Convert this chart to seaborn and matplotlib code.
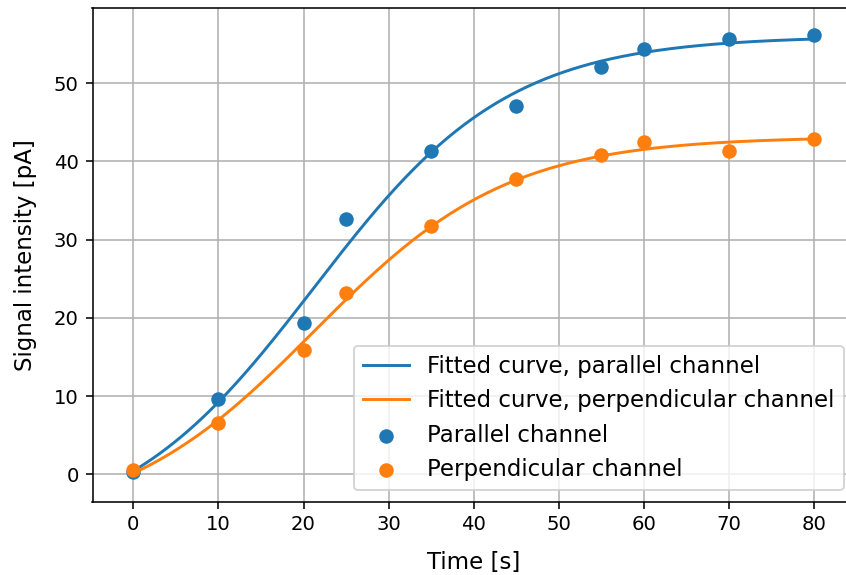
#!/usr/bin/env python3
"""
Signal intensity vs time for two polarisation channels, with fitted curves.
"""

import numpy as np
import pandas as pd
import matplotlib
matplotlib.use("Agg")
import matplotlib.pyplot as plt
import seaborn as sns

time_s = [0, 10, 20, 25, 35, 45, 55, 60, 70, 80]
parallel_pa = [0.3, 9.6, 19.4, 32.6, 41.3, 47.1, 52.0, 54.3, 55.6, 56.2]
perpendicular_pa = [0.6, 6.6, 15.9, 23.2, 31.7, 37.8, 40.8, 42.5, 41.3, 42.8]

line_labels = ["Fitted curve, parallel channel", "Fitted curve, perpendicular channel"]
point_labels = ["Parallel channel", "Perpendicular channel"]
colors = ["tab:blue", "tab:orange"]


def sigmoid(x):
    return 1 / (1 + np.exp(-x))


def joint_logistic_fit(t, ys, t_new):
    """y = A / (1 + exp(-k (t - t0))) + c, with k and t0 shared by both channels."""
    t = np.asarray(t, dtype=float)
    ys = [np.asarray(y, dtype=float) for y in ys]
    best = None
    for k in np.linspace(0.02, 0.3, 113):
        for t0 in np.linspace(0, 40, 161):
            g = sigmoid(k * (t - t0))
            M = np.column_stack([g, np.ones_like(g)])
            sse, coefs = 0.0, []
            for y in ys:
                coef, *_ = np.linalg.lstsq(M, y, rcond=None)
                sse += np.sum((M @ coef - y) ** 2)
                coefs.append(coef)
            if best is None or sse < best[0]:
                best = (sse, k, t0, coefs)
    _, k, t0, coefs = best
    g_new = sigmoid(k * (t_new - t0))
    return [A * g_new + c for A, c in coefs]


t_fit = np.linspace(0, 80, 300)
fits = joint_logistic_fit(time_s, [parallel_pa, perpendicular_pa], t_fit)

W, H = 846, 575
fig = plt.figure(figsize=(W / 141, H / 141), dpi=141)
ax = fig.add_axes([92.5 / W, (H - 501.7) / H, (855 - 92.5) / W, (501.7 - 8) / H])

for fit, lab, col in zip(fits, line_labels, colors):
    sns.lineplot(x=t_fit, y=fit, ax=ax, color=col, label=lab, linewidth=1.5)

pts = pd.DataFrame({"t": time_s, "par": parallel_pa, "perp": perpendicular_pa})
for key, lab, col in zip(["par", "perp"], point_labels, colors):
    sns.scatterplot(data=pts, x="t", y=key, ax=ax, color=col, label=lab,
                    s=55, linewidth=0, zorder=3)

ax.set_xlim(-4.8, 84.8)
ax.set_ylim(-3.5, 59.6)
ax.set_xticks(np.arange(0, 81, 10))
ax.set_yticks(np.arange(0, 51, 10))
ax.tick_params(labelsize=10)
ax.grid(True, color="#b0b0b0", linewidth=0.8)
ax.set_axisbelow(True)
ax.set_xlabel("Time [s]", fontsize=11.7, labelpad=8.5)
ax.set_ylabel("Signal intensity [pA]", fontsize=11.7, labelpad=8.5)
ax.legend(loc="lower right", fontsize=11.7)

fig.savefig("out.png", dpi=141)
plt.close(fig)
